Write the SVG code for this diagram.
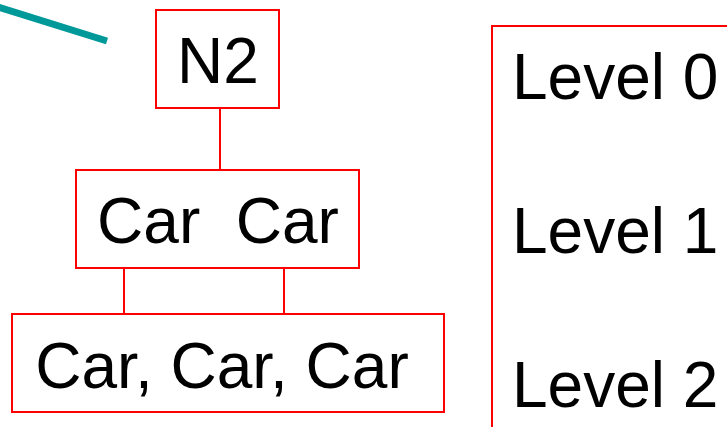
<svg xmlns="http://www.w3.org/2000/svg" width="727" height="427" viewBox="0 0 727 427">
<style>
.box{fill:#fff;stroke:#ff0000;stroke-width:2}
.t{font-family:"Liberation Sans",Arial,sans-serif;font-size:64px;fill:#000}
.c{stroke:#ff0000;stroke-width:2;fill:none}
</style>
<rect width="727" height="427" fill="#fff"/>
<line x1="-2" y1="7" x2="107" y2="41" stroke="#009999" stroke-width="7"/>
<g id="connectors">
<line class="c" x1="220" y1="108" x2="220" y2="170"/>
<line class="c" x1="124" y1="268" x2="124" y2="314"/>
<line class="c" x1="284" y1="268" x2="284" y2="314"/>
</g>
<g id="n2">
<rect class="box" x="156" y="10" width="123" height="98"/>
<text class="t" x="218" y="83" text-anchor="middle">N2</text>
</g>
<g id="carcar">
<rect class="box" x="76" y="170" width="283" height="98"/>
<text class="t" x="218" y="243" text-anchor="middle" xml:space="preserve">Car  Car</text>
</g>
<g id="carcarcar">
<rect class="box" x="12" y="314" width="432" height="98"/>
<text class="t" x="222" y="388" text-anchor="middle">Car, Car, Car</text>
</g>
<g id="levels">
<rect class="box" x="492" y="26" width="260" height="420"/>
<text class="t" x="512" y="99">Level 0</text>
<text class="t" x="512" y="253">Level 1</text>
<text class="t" x="512" y="407">Level 2</text>
</g>
</svg>
